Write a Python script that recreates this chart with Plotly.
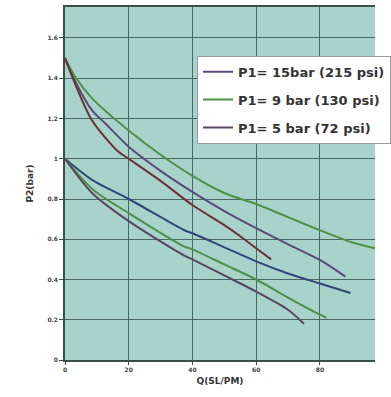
import plotly.graph_objects as go

# Flow Q (SL/PM) and outlet pressure P2 (bar)
q_15_hi = [0, 3.5, 8.5, 13, 20, 30, 40, 50, 60, 70, 80, 88]
p_15_hi = [1.5, 1.375, 1.24, 1.17, 1.06, 0.94, 0.835, 0.74, 0.655, 0.575, 0.497, 0.414]

q_9_hi = [0, 3.5, 8.5, 20, 30, 40, 50, 60, 70, 80, 90, 97.3]
p_9_hi = [1.5, 1.40, 1.30, 1.14, 1.02, 0.915, 0.83, 0.775, 0.71, 0.645, 0.585, 0.555]

q_5_hi = [0, 3.5, 8.5, 16.4, 20, 30, 40, 50, 55, 60, 64.7]
p_5_hi = [1.5, 1.36, 1.19, 1.04, 1.0, 0.89, 0.77, 0.67, 0.615, 0.555, 0.50]

q_15_lo = [0, 8.5, 20, 37.3, 40, 50, 60, 70, 80, 89.6]
p_15_lo = [1.0, 0.895, 0.80, 0.646, 0.63, 0.56, 0.49, 0.43, 0.38, 0.333]

q_9_lo = [0, 8.5, 20, 37.3, 40, 50, 60, 70, 80, 82]
p_9_lo = [1.0, 0.85, 0.73, 0.565, 0.55, 0.475, 0.40, 0.31, 0.225, 0.21]

q_5_lo = [0, 8.5, 20, 37.3, 40, 50, 60, 70, 75]
p_5_lo = [1.0, 0.83, 0.69, 0.52, 0.50, 0.42, 0.34, 0.25, 0.18]

legend_names = ["P1= 15bar (215 psi)", "P1= 9 bar (130 psi)", "P1= 5 bar (72 psi)"]

x_ticks = [0, 20, 40, 60, 80]
x_labels = ["0", "20", "40", "60", "80"]
y_ticks = [0, 0.2, 0.4, 0.6, 0.8, 1.0, 1.2, 1.4, 1.6]
y_labels = ["0", "0.2", "0.4", "0.6", "0.8", "1", "1.2", "1.4", "1.6"]

fig = go.Figure()

series = [
    (q_15_hi, p_15_hi, "#5b4a7a", "g15", True, legend_names[0]),
    (q_15_lo, p_15_lo, "#33467a", "g15", False, legend_names[0]),
    (q_9_hi, p_9_hi, "#4c9146", "g9", True, legend_names[1]),
    (q_9_lo, p_9_lo, "#4c9146", "g9", False, legend_names[1]),
    (q_5_lo, p_5_lo, "#5a4562", "g5", True, legend_names[2]),
    (q_5_hi, p_5_hi, "#6e3038", "g5", False, legend_names[2]),
]
for qx, py, col, grp, show, name in series:
    fig.add_trace(go.Scatter(
        x=qx, y=py, mode="lines", name=name,
        line=dict(color=col, width=2, shape="spline", smoothing=0.8),
        legendgroup=grp, showlegend=show,
    ))

fig.update_layout(
    width=391, height=397,
    margin=dict(l=65, r=0, t=7, b=37),
    paper_bgcolor="white",
    plot_bgcolor="#a8d3ca",
    font=dict(family="DejaVu Sans", color="#333333"),
    legend=dict(
        x=0.426, y=0.862, xanchor="left", yanchor="top",
        bgcolor="white", bordercolor="#9a9a9a", borderwidth=1,
        font=dict(family="DejaVu Sans", size=13, color="#333333", weight="bold"),
        traceorder="grouped", tracegroupgap=8,
    ),
    xaxis=dict(
        range=[0, 97.3], tickvals=x_ticks, ticktext=x_labels,
        showgrid=True, gridcolor="#4a6863", gridwidth=1.3,
        showline=True, linecolor="#3a4e4a", linewidth=1.5, mirror=True,
        ticks="outside", ticklen=3, tickcolor="#3a4e4a",
        tickfont=dict(size=6, color="#444444", weight="bold"),
        zeroline=False,
        title=dict(text="Q(SL/PM)", font=dict(size=9, color="#333333", weight="bold"), standoff=6),
    ),
    yaxis=dict(
        range=[0, 1.754], tickvals=y_ticks, ticktext=y_labels,
        showgrid=True, gridcolor="#4a6863", gridwidth=1.3,
        showline=True, linecolor="#3a4e4a", linewidth=1.5,
        ticks="outside", ticklen=4, tickcolor="#3a4e4a",
        tickfont=dict(size=6, color="#444444", weight="bold"),
        zeroline=False,
        title=dict(text="P2(bar)", font=dict(size=9, color="#333333", weight="bold"), standoff=12),
    ),
)

fig.write_html("out.html")
